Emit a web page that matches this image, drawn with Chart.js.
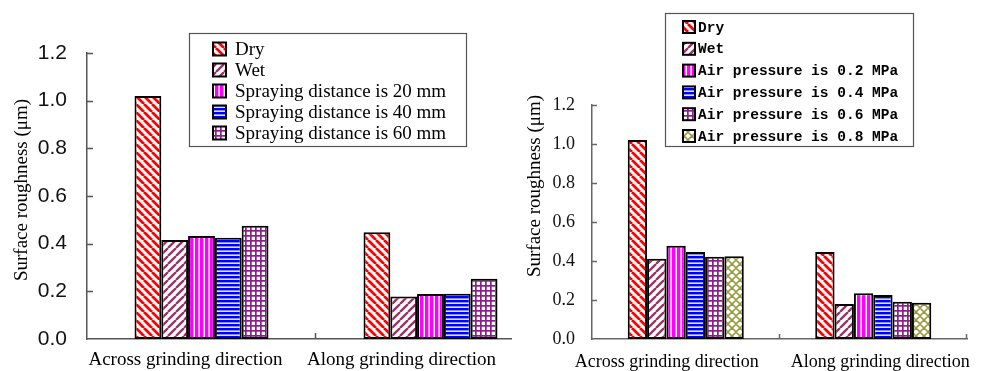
<!DOCTYPE html>
<html>
<head>
<meta charset="utf-8">
<script src="https://cdn.jsdelivr.net/npm/chart.js@4.4.1/dist/chart.umd.min.js"></script>
<style>
  html, body { margin: 0; padding: 0; background: #fff; }
  #wrap { position: relative; width: 983px; height: 371px; overflow: hidden; background: #fff; }
  #leftBox { position: absolute; left: 0; top: 0; width: 512px; height: 371px; overflow: hidden; }
  #rightBox { position: absolute; left: 512px; top: 0; width: 471px; height: 371px; overflow: hidden; }
</style>
</head>
<body>
<div id="wrap">
  <div id="leftBox"><canvas id="distanceChart" width="560" height="371"></canvas></div>
  <div id="rightBox"><canvas id="pressureChart" width="471" height="371"></canvas></div>
</div>
<script>
// ---- data ----
const categories = ['Across grinding direction', 'Along grinding direction'];
const yTickValues = [0, 0.2, 0.4, 0.6, 0.8, 1.0, 1.2];
const yAxisTitle = 'Surface roughness (\u03bcm)';

// Left panel: effect of spraying distance
const distanceLabels = ['Dry', 'Wet', 'Spraying distance is 20 mm', 'Spraying distance is 40 mm', 'Spraying distance is 60 mm'];
const distDry  = [1.02, 0.448];
const distWet  = [0.415, 0.178];
const dist20mm = [0.432, 0.189];
const dist40mm = [0.425, 0.190];
const dist60mm = [0.475, 0.253];

// Right panel: effect of air pressure
const pressureLabels = ['Dry', 'Wet', 'Air pressure is 0.2 MPa', 'Air pressure is 0.4 MPa', 'Air pressure is 0.6 MPa', 'Air pressure is 0.8 MPa'];
const presDry   = [1.02, 0.446];
const presWet   = [0.412, 0.180];
const pres02MPa = [0.478, 0.234];
const pres04MPa = [0.446, 0.226];
const pres06MPa = [0.422, 0.191];
const pres08MPa = [0.424, 0.186];

// ---- hatch fills ----
function makePattern(kind) {
  const c = document.createElement('canvas');
  const g = c.getContext('2d');
  let s = 8;
  const fillWhite = () => { g.fillStyle = '#fff'; g.fillRect(0, 0, s, s); };
  if (kind === 'dry' || kind === 'wet') {
    s = 8; c.width = c.height = s; fillWhite();
    g.strokeStyle = kind === 'dry' ? '#ff0000' : '#993366';
    g.lineWidth = kind === 'dry' ? 2.8 : 2.3;
    g.beginPath();
    for (const o of [-s, 0, s]) {
      if (kind === 'dry') { g.moveTo(o, 0); g.lineTo(o + s, s); }
      else { g.moveTo(o, s); g.lineTo(o + s, 0); }
    }
    g.stroke();
  } else if (kind === 'vert') {
    s = 5; c.width = c.height = s; fillWhite();
    g.fillStyle = '#ff00ff'; g.fillRect(0, 0, 3.4, s);
  } else if (kind === 'horiz') {
    s = 4; c.width = c.height = s; g.fillStyle = '#dbe8ff'; g.fillRect(0, 0, s, s);
    g.fillStyle = '#0000ff'; g.fillRect(0, 0, s, 2.4);
  } else if (kind === 'grid') {
    s = 5; c.width = c.height = s; fillWhite();
    g.fillStyle = '#8a1f8a'; g.fillRect(0, 0, s, 1.7); g.fillRect(0, 0, 1.7, s);
  } else if (kind === 'lattice') {
    s = 8; c.width = c.height = s; fillWhite();
    g.strokeStyle = '#9a9a3a'; g.lineWidth = 1.6;
    g.beginPath();
    g.moveTo(0, s / 2); g.lineTo(s / 2, 0); g.lineTo(s, s / 2); g.lineTo(s / 2, s); g.closePath();
    g.stroke();
  }
  return g.createPattern(c, 'repeat');
}

const fills = {
  dry: makePattern('dry'), wet: makePattern('wet'), vert: makePattern('vert'),
  horiz: makePattern('horiz'), grid: makePattern('grid'), lattice: makePattern('lattice')
};

function barSet(label, data, fill) {
  return { label, data, backgroundColor: fill, borderColor: '#000', borderWidth: 2, borderSkipped: false };
}

// ---- plugins: boxed legend, inward tick marks, category labels, y title ----
const boxedLegend = {
  id: 'boxedLegend',
  afterDraw(chart, args, o) {
    const ctx = chart.ctx;
    ctx.save();
    ctx.strokeStyle = '#555'; ctx.lineWidth = 1.2;
    ctx.strokeRect(o.x + 0.5, o.y + 0.5, o.w, o.h);
    ctx.font = o.font; ctx.textBaseline = 'middle'; ctx.textAlign = 'left';
    chart.data.datasets.forEach((ds, i) => {
      const cy = o.row0 + i * o.rowGap;
      ctx.fillStyle = ds.backgroundColor;
      ctx.fillRect(o.sx, cy - o.sz / 2, o.sz, o.sz);
      ctx.strokeStyle = '#000'; ctx.lineWidth = 2;
      ctx.strokeRect(o.sx, cy - o.sz / 2, o.sz, o.sz);
      ctx.fillStyle = '#000';
      ctx.fillText(ds.label, o.tx, cy + 1);
    });
    ctx.restore();
  }
};

const axisDecor = {
  id: 'axisDecor',
  afterDraw(chart, args, o) {
    const { ctx, chartArea: ca, scales: { x, y } } = chart;
    ctx.save();
    ctx.strokeStyle = o.axisColor; ctx.lineWidth = 1.5;
    ctx.beginPath();
    y.ticks.forEach(t => {
      if (t.value === 0) return;
      const py = Math.round(y.getPixelForValue(t.value)) + 0.5;
      ctx.moveTo(ca.left, py); ctx.lineTo(ca.left + o.tickLen, py);
    });
    for (let i = 1; i <= categories.length; i++) {
      const px = Math.round(x.getPixelForValue(i - 0.5)) - 0.5;
      ctx.moveTo(px, ca.bottom); ctx.lineTo(px, ca.bottom - o.tickLen);
    }
    ctx.stroke();

    ctx.fillStyle = '#000';
    ctx.font = o.labelFont; ctx.textAlign = 'center'; ctx.textBaseline = 'alphabetic';
    categories.forEach((c, i) => ctx.fillText(c, x.getPixelForValue(i) + o.labelNudge[i], o.labelBaseline));

    ctx.translate(o.titleX, o.titleY);
    ctx.rotate(-Math.PI / 2);
    ctx.font = o.titleFont; ctx.textBaseline = 'middle';
    ctx.fillText(yAxisTitle, 0, 0);
    ctx.restore();
  }
};

function makeChart(canvasId, labels, series, fillKeys, L) {
  return new Chart(document.getElementById(canvasId), {
    type: 'bar',
    data: {
      labels: categories,
      datasets: series.map((d, i) => barSet(labels[i], d, fills[fillKeys[i]]))
    },
    plugins: [boxedLegend, axisDecor],
    options: {
      responsive: false,
      animation: false,
      devicePixelRatio: 1,
      layout: { padding: { top: L.top, right: L.right, left: 0, bottom: 0 } },
      datasets: { bar: { categoryPercentage: L.catPct, barPercentage: 1 } },
      plugins: {
        legend: { display: false },
        tooltip: { enabled: false },
        boxedLegend: L.legend,
        axisDecor: L.decor
      },
      scales: {
        x: {
          type: 'category',
          grid: { display: false },
          border: { display: true, color: L.decor.axisColor, width: 1.5 },
          ticks: { display: false },
          afterFit(s) { s.height = 371 - L.bottom; }
        },
        y: {
          min: 0, max: 1.2,
          afterBuildTicks(s) { s.ticks = yTickValues.map(v => ({ value: v })); },
          grid: { display: false },
          border: { display: true, color: L.decor.axisColor, width: 1.5 },
          ticks: {
            padding: L.tickPad,
            color: '#111',
            font: L.tickFont,
            callback: v => Number(v).toFixed(1)
          },
          afterFit(s) { s.width = L.axisLeft; }
        }
      }
    }
  });
}

makeChart('distanceChart', distanceLabels,
  [distDry, distWet, dist20mm, dist40mm, dist60mm],
  ['dry', 'wet', 'vert', 'horiz', 'grid'],
  {
    top: 53, bottom: 339, right: 15, axisLeft: 87, tickPad: 12, catPct: 0.585,
    tickFont: { family: '"Liberation Sans", Arial, sans-serif', size: 21 },
    legend: { x: 189, y: 33, w: 277, h: 113, sx: 213, sz: 13, tx: 235, row0: 49, rowGap: 21,
              font: '19px "Liberation Serif", "Times New Roman", serif' },
    decor: { axisColor: '#555', tickLen: 6, labelFont: '19px "Liberation Serif", "Times New Roman", serif',
             labelNudge: [-16, -29], labelBaseline: 365, titleX: 22, titleY: 190,
             titleFont: '19px "Liberation Serif", "Times New Roman", serif' }
  });

makeChart('pressureChart', pressureLabels,
  [presDry, presWet, pres02MPa, pres04MPa, pres06MPa, pres08MPa],
  ['dry', 'wet', 'vert', 'horiz', 'grid', 'lattice'],
  {
    top: 105, bottom: 339, right: 16, axisLeft: 80, tickPad: 9, catPct: 0.619,
    tickFont: { family: '"Liberation Serif", "Times New Roman", serif', size: 18 },
    legend: { x: 153, y: 13, w: 248, h: 133, sx: 171, sz: 12, tx: 186, row0: 27, rowGap: 21.8,
              font: 'bold 14.5px "Liberation Mono", "Courier New", monospace' },
    decor: { axisColor: '#666', tickLen: 5, labelFont: '18px "Liberation Serif", "Times New Roman", serif',
             labelNudge: [-19, 7], labelBaseline: 367, titleX: 23, titleY: 186,
             titleFont: '19px "Liberation Serif", "Times New Roman", serif' }
  });
</script>
</body>
</html>
